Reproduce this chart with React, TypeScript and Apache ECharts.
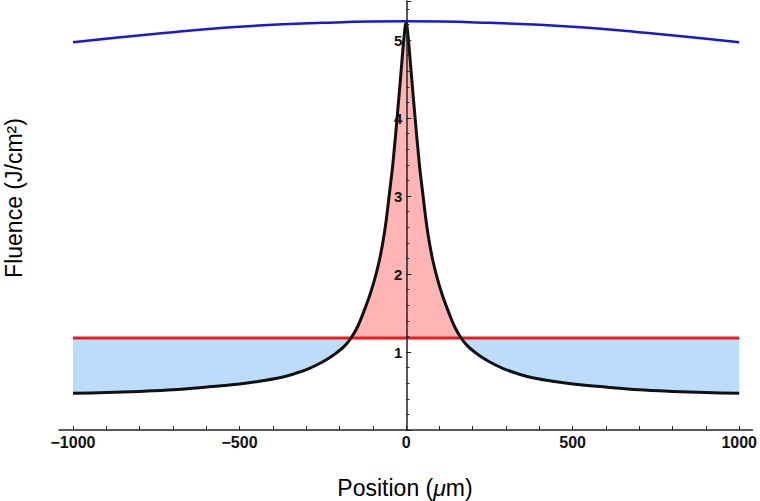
import React, { useEffect, useRef } from "react";
import * as echarts from "echarts";

// Black curve: fluence profile (Position in µm, Fluence in J/cm²)
const positions = [
  -1000, -900, -800, -700, -600, -500, -440, -380, -340, -315, -290, -270, -250, -230, -210, -185, -165, -145, -125, -108, -92, -80, -70, -60, -51, -40, -27, -15, -7, 0,
  7, 15, 27, 40, 51, 60, 70, 80, 92, 108, 125, 145, 165, 185, 210, 230, 250, 270, 290, 315, 340, 380, 440, 500, 600, 700, 800, 900, 1000,
];
const fluence = [
  0.47, 0.48, 0.495, 0.515, 0.55, 0.59, 0.625, 0.67, 0.715, 0.75, 0.79, 0.83, 0.875, 0.925, 0.985, 1.075, 1.18, 1.33, 1.54, 1.74, 1.97, 2.18, 2.4, 2.68, 3.0, 3.4, 4.0, 4.6, 5.0, 5.23,
  5.0, 4.6, 4.0, 3.4, 3.0, 2.68, 2.4, 2.18, 1.97, 1.74, 1.54, 1.33, 1.18, 1.075, 0.985, 0.925, 0.875, 0.83, 0.79, 0.75, 0.715, 0.67, 0.625, 0.59, 0.55, 0.515, 0.495, 0.48, 0.47,
];

// Blue curve
const blueX = [-1000, -750, -500, -250, 0, 250, 500, 750, 1000];
const blueY = [4.97, 5.08, 5.17, 5.22, 5.24, 5.22, 5.17, 5.08, 4.97];

// Red threshold line
const thresholdX = [-1000, 1000];
const threshold = 1.18;

// Ticks
const xTickLabels = [-1000, -500, 0, 500, 1000];
const xTickMarks = [
  -1000, -900, -800, -700, -600, -500, -400, -300, -200, -100, 0, 100, 200, 300, 400, 500, 600, 700, 800, 900, 1000,
];
const yTickLabels = [1, 2, 3, 4, 5];

export default function App() {
  const ref = useRef<HTMLDivElement>(null);

  useEffect(() => {
    document.body.style.margin = "0";
    const chart = echarts.init(ref.current!, null, { renderer: "svg" });

    const xMin = -1042;
    const xMax = 1040;
    const gridLeft = 59;
    const gridRight = 7;
    const plotW = 760 - gridLeft - gridRight;
    const yAxisOffset = -((0 - xMin) / (xMax - xMin)) * plotW;

    const aboveCurve = positions.map((x, i) => [x, Math.max(fluence[i], threshold)]);
    const belowCurve = positions.map((x, i) => [x, Math.min(fluence[i], threshold)]);
    const blackLine = positions.map((x, i) => [x, fluence[i]]);
    const blueLine = blueX.map((x, i) => [x, blueY[i]]);
    const redLine = thresholdX.map((x) => [x, threshold]);

    const font = "'Liberation Sans', Arial, Helvetica, sans-serif";
    const sm = 0.3;

    chart.setOption({
      animation: false,
      grid: { left: gridLeft, right: gridRight, top: 1, bottom: 71, containLabel: false },
      xAxis: {
        type: "value",
        min: xMin,
        max: xMax,
        z: 10,
        splitLine: { show: false },
        axisLine: { onZero: false, lineStyle: { color: "#222", width: 1.5 } },
        axisTick: {
          show: true,
          inside: true,
          length: 4,
          customValues: xTickMarks,
          lineStyle: { color: "#222", width: 1 },
        },
        axisLabel: {
          customValues: xTickLabels,
          formatter: (v: number) => String(v).replace("-", "\u2212"),
          fontFamily: font,
          fontWeight: "bold",
          fontSize: 16,
          color: "#111",
          margin: 4,
        },
      },
      yAxis: {
        type: "value",
        min: 0,
        max: 5.5,
        interval: 1,
        position: "left",
        offset: yAxisOffset,
        z: 10,
        splitLine: { show: false },
        axisLine: { onZero: false, lineStyle: { color: "#222", width: 1.5 } },
        axisTick: { show: true, inside: true, length: 5, lineStyle: { color: "#222", width: 1 } },
        minorTick: { show: true, splitNumber: 5, length: 3, lineStyle: { color: "#222", width: 1 } },
        axisLabel: {
          formatter: (v: number) => (yTickLabels.indexOf(v) >= 0 ? String(v) : ""),
          fontFamily: font,
          fontWeight: "bold",
          fontSize: 15,
          color: "#111",
          margin: 4,
        },
      },
      graphic: [
        {
          type: "text",
          x: 405,
          y: 488,
          style: {
            text: "Position ({i|\u03bc}m)",
            fontFamily: font,
            fontSize: 23,
            fill: "#000",
            align: "center",
            verticalAlign: "middle",
            rich: { i: { fontStyle: "italic", fontFamily: font, fontSize: 23, fill: "#000" } },
          },
        },
        {
          type: "text",
          x: 14,
          y: 198,
          rotation: Math.PI / 2,
          style: {
            text: "Fluence (J/cm\u00b2)",
            fontFamily: font,
            fontSize: 23,
            fill: "#000",
            align: "center",
            verticalAlign: "middle",
          },
        },
      ],
      series: [
        {
          type: "line",
          data: belowCurve,
          symbol: "none",
          smooth: sm,
          lineStyle: { opacity: 0, width: 0 },
          areaStyle: { color: "#bbdcfa", opacity: 1, origin: threshold },
          silent: true,
          z: 1,
        },
        {
          type: "line",
          data: aboveCurve,
          symbol: "none",
          smooth: sm,
          lineStyle: { opacity: 0, width: 0 },
          areaStyle: { color: "#ffb5b5", opacity: 1, origin: threshold },
          silent: true,
          z: 1,
        },
        {
          type: "line",
          data: redLine,
          symbol: "none",
          lineStyle: { color: "#ee1a1a", width: 3 },
          z: 3,
        },
        {
          type: "line",
          data: blackLine,
          symbol: "none",
          smooth: sm,
          lineStyle: { color: "#111", width: 3, join: "round" },
          z: 4,
        },
        {
          type: "line",
          data: blueLine,
          symbol: "none",
          smooth: true,
          lineStyle: { color: "#1a1ad2", width: 2.5 },
          z: 5,
        },
      ],
    });

    return () => chart.dispose();
  }, []);

  return <div ref={ref} style={{ width: 760, height: 501 }} />;
}
